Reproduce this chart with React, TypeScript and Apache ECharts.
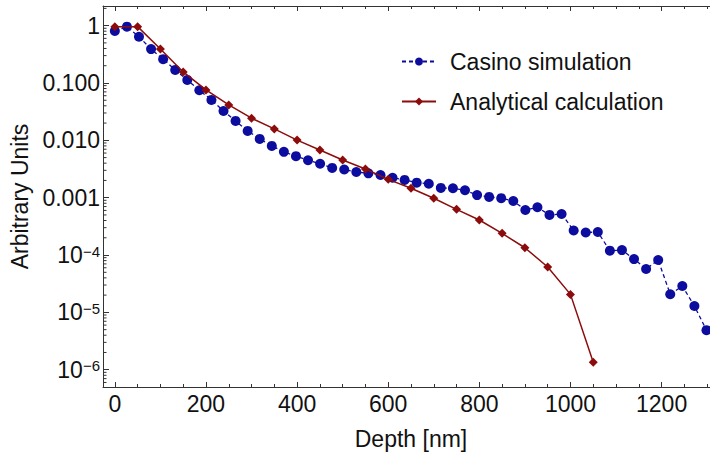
import React, { useEffect, useRef } from 'react';
import * as echarts from 'echarts';

const casinoDepth = [0, 26.5, 53, 79.5, 106, 132.5, 159, 185.5, 212, 238.5, 265, 291.5, 318, 344.5, 371, 397.5, 424, 450.5, 477, 503.5, 530, 556.5, 583, 609.5, 636, 662.5, 689, 715.5, 742, 768.5, 795, 821.5, 848, 874.5, 901, 927.5, 954, 980.5, 1007, 1033.5, 1060, 1086.5, 1113, 1139.5, 1166, 1192.5, 1219, 1245.5, 1272, 1298.5];
const casinoValues = [0.81, 0.96, 0.64, 0.39, 0.26, 0.169, 0.113, 0.0746, 0.0506, 0.0325, 0.0218, 0.0146, 0.0106, 0.008, 0.0063, 0.0053, 0.0045, 0.0039, 0.0033, 0.0031, 0.0028, 0.00266, 0.00249, 0.00223, 0.00204, 0.00183, 0.00175, 0.00148, 0.00146, 0.00135, 0.00111, 0.00103, 0.00098, 0.000875, 0.00061, 0.00068, 0.0005, 0.00052, 0.000268, 0.000247, 0.000252, 0.000119, 0.000122, 8.5e-5, 5.7e-5, 8.2e-5, 2.07e-5, 2.88e-5, 1.29e-5, 4.9e-6];

const analyticalDepth = [0, 50, 100, 150, 200, 250, 300, 350, 400, 450, 500, 550, 600, 650, 700, 750, 800, 850, 900, 950, 1000, 1050];
const analyticalValues = [0.96, 0.96, 0.392, 0.156, 0.0756, 0.0414, 0.0243, 0.0158, 0.0101, 0.0068, 0.00454, 0.00316, 0.00209, 0.00146, 0.000976, 0.000627, 0.000408, 0.000239, 0.000134, 6.18e-5, 2.06e-5, 1.35e-6];

const seriesNames = ['Casino simulation', 'Analytical calculation'];
const xAxisName = 'Depth [nm]';
const yAxisName = 'Arbitrary Units';

const X_MIN = -26;
const X_MAX = 1326;
const Y_MIN = 5e-7;
const Y_MAX = 2.2;

const FONT = '"Liberation Sans", Arial, Helvetica, sans-serif';
const AXIS_COLOR = '#333';
const BLUE = '#0c0c9e';
const RED = '#8c0c0c';

function buildMinorLogTicks(): number[][] {
  const out: number[][] = [];
  for (let e = -7; e <= 0; e++) {
    for (let m = 2; m <= 9; m++) {
      const v = m * Math.pow(10, e);
      if (v > Y_MIN && v < Y_MAX) out.push([X_MIN, v]);
    }
  }
  return out;
}

export default function App() {
  const ref = useRef<HTMLDivElement>(null);

  useEffect(() => {
    if (!ref.current) return;
    const chart = echarts.init(ref.current, undefined, { renderer: 'svg' });

    const yFormatter = (v: number) => {
      const lg = Math.log10(v);
      const e = Math.round(lg);
      if (Math.abs(lg - e) > 1e-6) return '';
      if (e === 0) return '1';
      if (e >= -3) return Math.pow(10, e).toFixed(3);
      return `{b|10}{s|\u2212${-e}}`;
    };

    const option: any = {
      animation: false,
      backgroundColor: '#fff',
      textStyle: { fontFamily: FONT },
      grid: { left: 103, top: 6, right: -9, bottom: 70, containLabel: false, outerBoundsMode: 'none' },
      legend: {
        orient: 'vertical',
        left: 401,
        top: 50,
        padding: 0,
        itemWidth: 34,
        itemHeight: 10,
        itemGap: 17,
        data: seriesNames,
        textStyle: { fontSize: 23, fontFamily: FONT, color: '#111', padding: [0, 0, 0, 9] },
      },
      xAxis: [
        {
          type: 'value',
          position: 'bottom',
          min: X_MIN,
          max: X_MAX,
          splitNumber: 7,
          name: xAxisName,
          nameLocation: 'middle',
          nameGap: 40,
          nameTextStyle: { fontSize: 23, fontFamily: FONT, color: '#111' },
          axisLine: { show: true, onZero: false, lineStyle: { color: AXIS_COLOR, width: 1 } },
          axisTick: { show: true, inside: true, length: 5, lineStyle: { color: AXIS_COLOR } },
          minorTick: { show: true, splitNumber: 4, length: 3, lineStyle: { color: AXIS_COLOR } },
          splitLine: { show: false },
          axisLabel: {
            show: true,
            margin: 5,
            fontSize: 23,
            fontFamily: FONT,
            color: '#111',
            formatter: (v: number) => (Math.abs(v % 200) < 1e-9 ? String(v) : ''),
          },
        },
        {
          type: 'value',
          position: 'top',
          min: X_MIN,
          max: X_MAX,
          splitNumber: 7,
          axisLine: { show: true, onZero: false, lineStyle: { color: AXIS_COLOR, width: 1 } },
          axisTick: { show: true, inside: true, length: 5, lineStyle: { color: AXIS_COLOR } },
          minorTick: { show: true, splitNumber: 4, length: 3, lineStyle: { color: AXIS_COLOR } },
          splitLine: { show: false },
          axisLabel: { show: false },
        },
      ],
      yAxis: {
        type: 'log',
        min: Y_MIN,
        max: Y_MAX,
        name: yAxisName,
        nameLocation: 'middle',
        nameGap: 66,
        nameTextStyle: { fontSize: 23, fontFamily: FONT, color: '#111' },
        axisLine: { show: true, onZero: false, lineStyle: { color: AXIS_COLOR, width: 1 } },
        axisTick: { show: true, inside: true, length: 6, lineStyle: { color: AXIS_COLOR } },
        splitLine: { show: false },
        axisLabel: {
          show: true,
          margin: 3,
          fontSize: 23,
          fontFamily: FONT,
          color: '#111',
          formatter: yFormatter,
          rich: {
            b: { fontSize: 23, fontFamily: FONT, color: '#111', lineHeight: 23 },
            s: { fontSize: 15, fontFamily: FONT, color: '#111', lineHeight: 15, verticalAlign: 'top' },
          },
        },
      },
      series: [
        {
          name: seriesNames[0],
          type: 'line',
          xAxisIndex: 0,
          data: casinoDepth.map((d, i) => [d, casinoValues[i]]),
          symbol: 'circle',
          symbolSize: 10,
          itemStyle: { color: BLUE },
          lineStyle: { color: BLUE, width: 1.3, type: [4, 3] },
          z: 3,
        },
        {
          name: seriesNames[1],
          type: 'line',
          xAxisIndex: 0,
          data: analyticalDepth.map((d, i) => [d, analyticalValues[i]]),
          symbol: 'diamond',
          symbolSize: 9,
          itemStyle: { color: RED },
          lineStyle: { color: RED, width: 1.5 },
          z: 4,
        },
        {
          name: 'minorTicks',
          type: 'custom',
          xAxisIndex: 0,
          silent: true,
          clip: false,
          data: buildMinorLogTicks(),
          renderItem: (params: any, api: any) => {
            const p = api.coord([X_MIN, api.value(1)]);
            return {
              type: 'line',
              shape: { x1: p[0], y1: p[1], x2: p[0] + 3.5, y2: p[1] },
              style: { stroke: AXIS_COLOR, lineWidth: 1 },
            };
          },
          z: 5,
        },
      ],
    };

    chart.setOption(option);
    return () => chart.dispose();
  }, []);

  return (
    <div
      ref={ref}
      style={{ position: 'absolute', left: 0, top: 0, width: 710, height: 457, background: '#fff' }}
    />
  );
}
